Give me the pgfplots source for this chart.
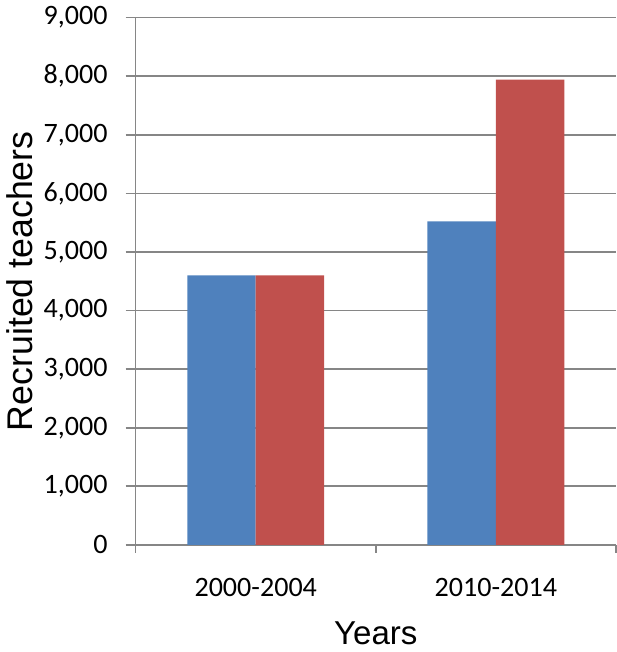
\documentclass[border=0pt]{standalone}
\usepackage{fontspec}
\setmainfont{Carlito}
\newfontfamily\arialf{Liberation Sans}
\usepackage{pgfplots}
\pgfplotsset{compat=1.18}
\definecolor{oblue}{HTML}{4F81BD}
\definecolor{ored}{HTML}{C0504D}
\definecolor{gridg}{HTML}{868686}
\begin{document}
\begin{tikzpicture}
\begin{axis}[
  scale only axis,
  width=239.5pt, height=263pt,
  xmin=-0.5, xmax=1.5,
  ymin=0, ymax=9000,
  ytick={0,1000,...,9000},
  xtick={0,1},
  xticklabels={2000-2004,2010-2014},
  minor xtick={-0.5,0.5,1.5},
  major x tick style={draw=none},
  minor x tick style={gridg, line width=0.8pt},
  minor tick length=4pt,
  major tick length=5pt,
  tick align=outside,
  axis x line*=bottom,
  axis y line*=left,
  axis line style={gridg, line width=0.8pt, -},
  ytick style={gridg, line width=0.8pt},
  ymajorgrids,
  major grid style={gridg, line width=0.8pt},
  /pgf/number format/assume math mode=true,
  /pgf/number format/1000 sep={,},
  scaled y ticks=false,
  ticklabel style={font=\fontsize{14pt}{16pt}\selectfont, text=black},
  yticklabel style={xshift=-5.5pt},
  xticklabel style={yshift=-8pt},
  xlabel={Years},
  ylabel={Recruited teachers},
  xlabel style={font=\arialf\fontsize{16.5pt}{19pt}\selectfont, yshift=-6pt},
  ylabel style={font=\arialf\fontsize{17.8pt}{20pt}\selectfont, yshift=-1.5pt},
  ybar,
  bar width=0.285,
]
\addplot[fill=oblue, draw=none, bar shift=-0.1425] coordinates {(0,4600) (1,5520)};
\addplot[fill=ored, draw=none, bar shift=0.1425] coordinates {(0,4600) (1,7940)};
\end{axis}
\end{tikzpicture}
\end{document}
